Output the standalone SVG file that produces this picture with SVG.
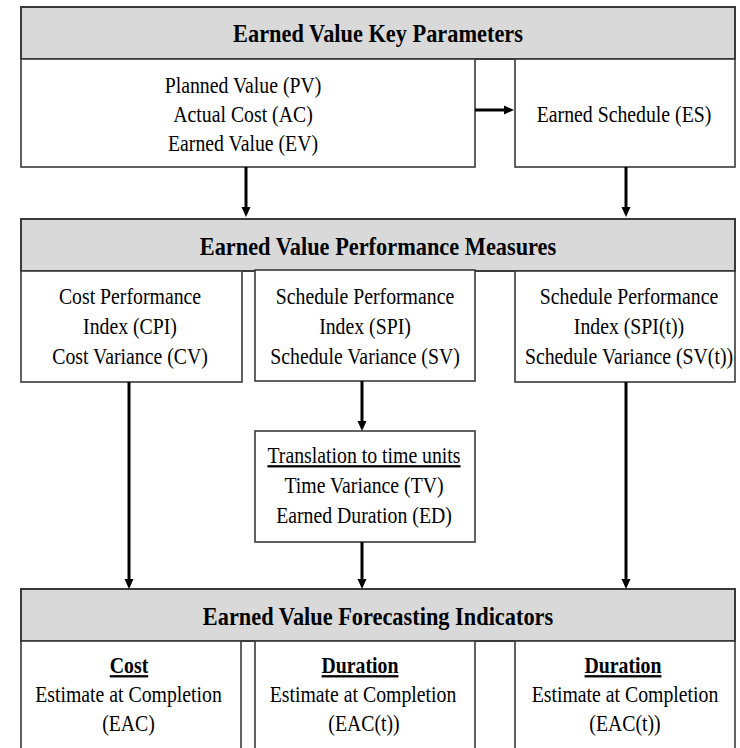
<svg xmlns="http://www.w3.org/2000/svg" width="740" height="748" viewBox="0 0 740 748">
<style>
.hdr{fill:#d9d9d9;stroke:#3a3a3a;stroke-width:2}
.box{fill:#fff;stroke:#3a3a3a;stroke-width:1.6}
.t{font-family:"Liberation Serif","Times New Roman",serif;font-size:23px;fill:#000;text-anchor:middle}
.b{font-weight:bold}
.h{font-family:"Liberation Serif","Times New Roman",serif;font-size:26px;font-weight:bold;fill:#000;text-anchor:middle}
.u{text-decoration:underline}
.c{stroke:#000;stroke-width:3;fill:none;marker-end:url(#ah)}
</style>
<defs>
<marker id="ah" markerUnits="userSpaceOnUse" markerWidth="10" markerHeight="10" refX="5" refY="5" orient="auto">
<path d="M0,0.5 L10,5 L0,9.5 z" fill="#000"/>
</marker>
</defs>
<rect width="740" height="748" fill="#fff"/>

<g id="hdr-key">
<rect class="hdr" x="21" y="7" width="714" height="52"/>
<text class="h" transform="translate(378 42) scale(0.86 1)">Earned Value Key Parameters</text>
</g>
<g id="node-pv">
<rect class="box" x="21" y="59" width="454" height="108"/>
<text class="t" transform="translate(243 93) scale(0.86 1)">Planned Value (PV)</text>
<text class="t" transform="translate(243 122) scale(0.86 1)">Actual Cost (AC)</text>
<text class="t" transform="translate(243 151) scale(0.86 1)">Earned Value (EV)</text>
</g>
<g id="node-es">
<rect class="box" x="515" y="59" width="220" height="108"/>
<text class="t" transform="translate(624 122) scale(0.86 1)">Earned Schedule (ES)</text>
</g>

<g id="hdr-perf">
<rect class="hdr" x="21" y="219" width="714" height="52"/>
<text class="h" transform="translate(378 255) scale(0.86 1)">Earned Value Performance Measures</text>
</g>
<g id="node-cpi">
<rect class="box" x="21" y="271" width="221" height="111"/>
<text class="t" transform="translate(130 304) scale(0.86 1)">Cost Performance</text>
<text class="t" transform="translate(130 334) scale(0.86 1)">Index (CPI)</text>
<text class="t" transform="translate(130 364) scale(0.86 1)">Cost Variance (CV)</text>
</g>
<g id="node-spi">
<rect class="box" x="255" y="270" width="220" height="111"/>
<text class="t" transform="translate(365 304) scale(0.86 1)">Schedule Performance</text>
<text class="t" transform="translate(365 334) scale(0.86 1)">Index (SPI)</text>
<text class="t" transform="translate(365 364) scale(0.86 1)">Schedule Variance (SV)</text>
</g>
<g id="node-spit">
<rect class="box" x="515" y="271" width="220" height="111"/>
<text class="t" transform="translate(629 304) scale(0.86 1)">Schedule Performance</text>
<text class="t" transform="translate(629 334) scale(0.86 1)">Index (SPI(t))</text>
<text class="t" transform="translate(629 364) scale(0.86 1)">Schedule Variance (SV(t))</text>
</g>

<g id="node-tv">
<rect class="box" x="255" y="431" width="220" height="111"/>
<text class="t u" transform="translate(364 463) scale(0.86 1)">Translation to time units</text>
<text class="t" transform="translate(364 493) scale(0.86 1)">Time Variance (TV)</text>
<text class="t" transform="translate(364 523) scale(0.86 1)">Earned Duration (ED)</text>
</g>

<g id="hdr-fore">
<rect class="hdr" x="21" y="589" width="714" height="52"/>
<text class="h" transform="translate(378 625) scale(0.86 1)">Earned Value Forecasting Indicators</text>
</g>
<g id="node-eac">
<rect class="box" x="21" y="641" width="220" height="120"/>
<text class="t b u" transform="translate(129 673) scale(0.86 1)">Cost</text>
<text class="t" transform="translate(128.5 702) scale(0.86 1)">Estimate at Completion</text>
<text class="t" transform="translate(128.5 731) scale(0.86 1)">(EAC)</text>
</g>
<g id="node-eact1">
<rect class="box" x="255" y="641" width="220" height="120"/>
<text class="t b u" transform="translate(360 673) scale(0.86 1)">Duration</text>
<text class="t" transform="translate(363 702) scale(0.86 1)">Estimate at Completion</text>
<text class="t" transform="translate(364 731) scale(0.86 1)">(EAC(t))</text>
</g>
<g id="node-eact2">
<rect class="box" x="515" y="641" width="220" height="120"/>
<text class="t b u" transform="translate(623 673) scale(0.86 1)">Duration</text>
<text class="t" transform="translate(625 702) scale(0.86 1)">Estimate at Completion</text>
<text class="t" transform="translate(625 731) scale(0.86 1)">(EAC(t))</text>
</g>

<g id="connectors">
<line class="c" x1="475" y1="110" x2="509" y2="110"/>
<line class="c" x1="246" y1="167" x2="246" y2="212"/>
<line class="c" x1="626" y1="167" x2="626" y2="212"/>
<line class="c" x1="129" y1="382" x2="129" y2="584"/>
<line class="c" x1="362" y1="381" x2="362" y2="426"/>
<line class="c" x1="362" y1="542" x2="362" y2="584"/>
<line class="c" x1="626" y1="382" x2="626" y2="584"/>
</g>
</svg>
